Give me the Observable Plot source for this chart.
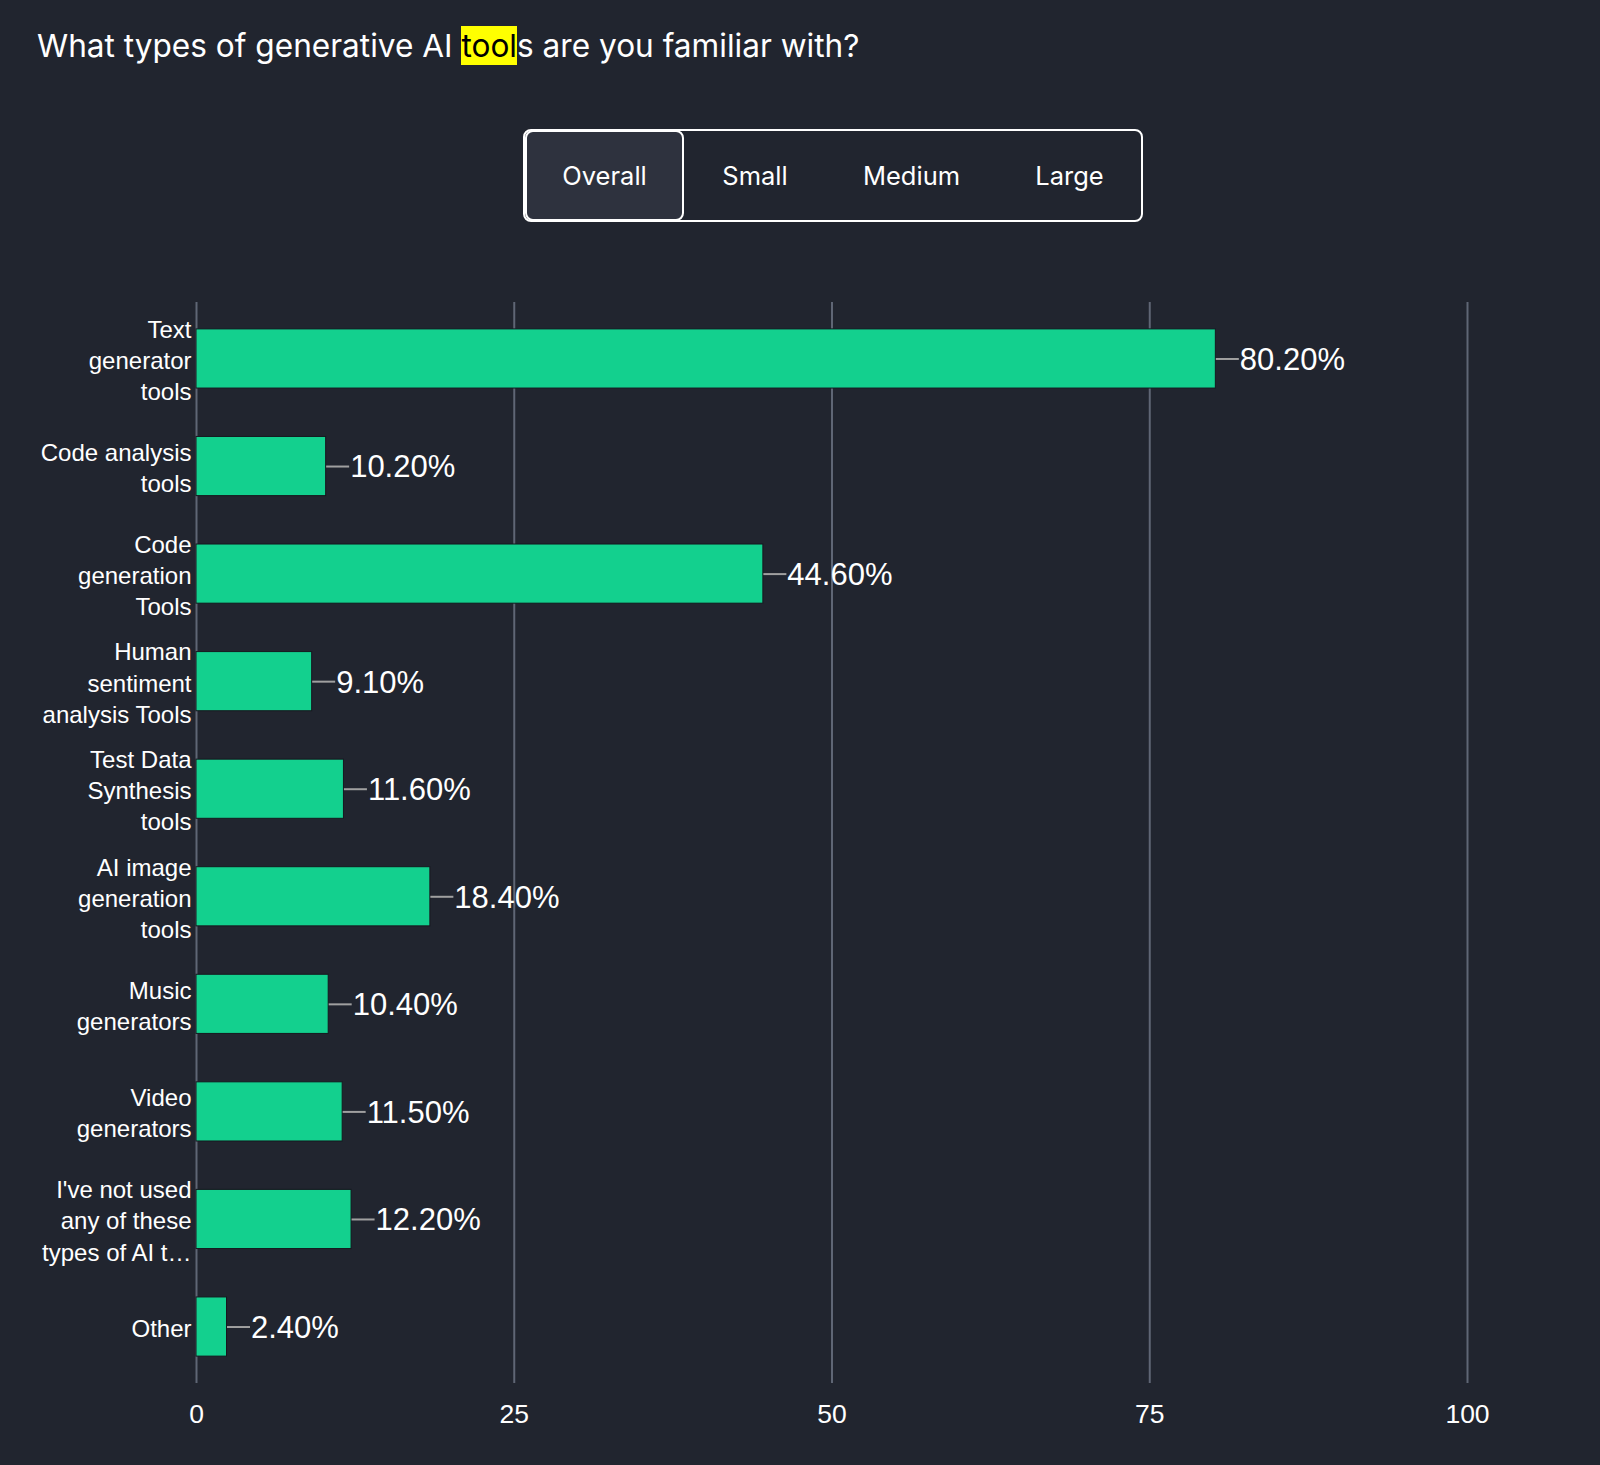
<!DOCTYPE html>
<html>
<head>
<meta charset="utf-8">
<script src="https://cdn.jsdelivr.net/npm/d3@7"></script>
<script src="https://cdn.jsdelivr.net/npm/@observablehq/plot@0.6"></script>
<style>
  html, body { margin: 0; padding: 0; background: #21252f; width: 1600px; height: 1465px; overflow: hidden; }
  body { position: relative; font-family: Inter, "Noto Sans", sans-serif; color: #fff; }
  .title { position: absolute; left: 37px; top: 25px; font-size: 31.6px; line-height: 42px; color: #fff; white-space: nowrap; }
  .title .hl { background: #ffff00; color: #000; }
  .seg { position: absolute; left: 523px; top: 129px; width: 616px; height: 89px; border: 2px solid #fff; border-radius: 8px; box-sizing: content-box; }
  .seg .btn { position: absolute; top: 0; height: 89px; line-height: 89px; font-size: 25.5px; color: #fff; text-align: center; }
  .seg .btn.active { background: #2e323e; border: 2px solid #fff; border-radius: 8px; top: -1px; left: -1px; height: 87px; line-height: 87px; }
  #chart { position: absolute; left: 0; top: 250px; }
</style>
</head>
<body>
<div class="title">What types of generative AI <span class="hl">tool</span>s are you familiar with?</div>
<div class="seg" id="seg"></div>
<div id="chart"></div>
<script>
const categories = [
  "Text generator tools",
  "Code analysis tools",
  "Code generation Tools",
  "Human sentiment analysis Tools",
  "Test Data Synthesis tools",
  "AI image generation tools",
  "Music generators",
  "Video generators",
  "I've not used any of these types of AI tools",
  "Other"
];
const tickLabels = [
  "Text\ngenerator\ntools",
  "Code analysis\ntools",
  "Code\ngeneration\nTools",
  "Human\nsentiment\nanalysis Tools",
  "Test Data\nSynthesis\ntools",
  "AI image\ngeneration\ntools",
  "Music\ngenerators",
  "Video\ngenerators",
  "I've not used\nany of these\ntypes of AI t…",
  "Other"
];
const values = [80.2, 10.2, 44.6, 9.1, 11.6, 18.4, 10.4, 11.5, 12.2, 2.4];
const xTicks = [0, 25, 50, 75, 100];
const segments = ["Overall", "Small", "Medium", "Large"];

// segmented control
const seg = document.getElementById("seg");
const segPos = [[0, 155], [158, 144], [308, 157], [466, 157]];
segments.forEach((s, i) => {
  const b = document.createElement("div");
  b.className = "btn" + (i === 0 ? " active" : "");
  b.style.left = segPos[i][0] + "px";
  b.style.width = segPos[i][1] + "px";
  b.textContent = s;
  seg.appendChild(b);
});

const data = categories.map((c, i) => ({category: c, value: values[i], label: tickLabels[i]}));
const labelOf = new Map(data.map(d => [d.category, d.label]));

const leader = {
  draw(context) {
    context.moveTo(0, 0);
    context.lineTo(23, 0);
  }
};

const chart = Plot.plot({
  width: 1600,
  height: 1215,
  marginTop: 52,
  marginBottom: 82,
  marginLeft: 196,
  marginRight: 133,
  style: {background: "transparent", color: "#fff", fontFamily: "'Liberation Sans', Arial, sans-serif"},
  x: {domain: [0, 100]},
  y: {domain: categories, paddingInner: 0.45, paddingOuter: 0.25, round: false},
  marks: [
    Plot.gridX(xTicks, {stroke: "#5f6675", strokeOpacity: 1, strokeWidth: 2}),
    Plot.axisX(xTicks, {tickSize: 0, tickPadding: 21, fontSize: 26.5, fill: "#fff", label: null}),
    Plot.axisY({tickSize: 0, tickPadding: 5, fontSize: 24, lineHeight: 1.3, fill: "#fff", label: null,
      tickFormat: d => labelOf.get(d)}),
    Plot.barX(data, {x: "value", y: "category", fill: "#13d08e", stroke: "#16181f", strokeWidth: 1}),
    Plot.dot(data, {x: "value", y: "category", symbol: leader, stroke: "#a0a0a0", fill: "none", strokeWidth: 2}),
    Plot.text(data, {x: "value", y: "category", text: d => d.value.toFixed(2) + "%", textAnchor: "start",
      dx: 24, dy: 1, fontSize: 31, fill: "#fff"})
  ]
});
document.getElementById("chart").appendChild(chart);
</script>
</body>
</html>
